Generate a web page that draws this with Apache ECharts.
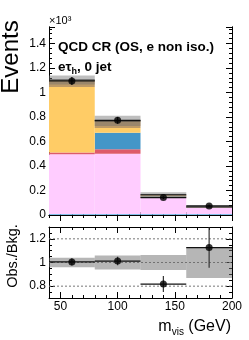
<!DOCTYPE html>
<html><head><meta charset="utf-8">
<script src="https://cdn.jsdelivr.net/npm/echarts@6/dist/echarts.min.js"></script>
<style>html,body{margin:0;padding:0;background:#fff}#c{width:249px;height:340px}</style>
</head><body><div id="c"></div>
<script>
// ---- data ----
const binEdges = [40, 80, 120, 160, 200];
const bkgCyan   = [0.006, 0.006, 0.006, 0.006];
const bkgPink   = [0.490, 0.495, 0.135, 0.052];
const bkgRed    = [0.014, 0.035, 0.006, 0.002];
const bkgBlue   = [0.000, 0.135, 0.004, 0.002];
const bkgOrange = [0.535, 0.040, 0.003, 0.001];
const bkgBrown  = [0.057, 0.057, 0.012, 0.003];
const bkgUnc    = [0.036, 0.042, 0.019, 0.008];
const obsValues = [1.094, 0.773, 0.142, 0.074];
const obsErrors = [0.033, 0.028, 0.012, 0.009];
const ratioValues = [1.005, 1.012, 0.818, 1.126];
const ratioErrors = [0.030, 0.036, 0.068, 0.171];
const ratioUnc    = [0.040, 0.060, 0.063, 0.130];
const xTickLabels = [50, 100, 150, 200];
const ratioTickLabels = [0.8, 1, 1.2];
const ratioGridLines = [0.8, 1, 1.2];

const FONT = "'Liberation Sans', Arial, Helvetica, sans-serif";
const procs = [
  {vals: bkgCyan, color: '#22a7d6'},
  {vals: bkgPink, color: '#ffccff'},
  {vals: bkgRed, color: '#de5a6a'},
  {vals: bkgBlue, color: '#4496c8'},
  {vals: bkgOrange, color: '#ffcc66'},
  {vals: bkgBrown, color: '#bd9a68'}
];
const nBins = binEdges.length - 1;
const cum = new Array(nBins).fill(0);
const series = [];

function rectItem(fill, stroke) {
  return function (params, api) {
    const a = api.coord([api.value(0), api.value(3)]);
    const b = api.coord([api.value(1), api.value(2)]);
    return {type: 'rect', shape: {x: a[0], y: a[1], width: b[0] - a[0], height: b[1] - a[1]},
      style: {fill: fill, stroke: stroke || null, lineWidth: 0}};
  };
}
procs.forEach(p => {
  const data = [];
  for (let i = 0; i < nBins; i++) {
    data.push([binEdges[i], binEdges[i + 1], cum[i], cum[i] + p.vals[i]]);
    cum[i] += p.vals[i];
  }
  series.push({type: 'custom', xAxisIndex: 0, yAxisIndex: 0, clip: true, silent: true,
    renderItem: rectItem(p.color), data: data, z: 2});
});
const totals = cum.slice();
// uncertainty band (top)
series.push({type: 'custom', xAxisIndex: 0, yAxisIndex: 0, clip: true, silent: true, z: 3,
  renderItem: rectItem('rgba(110,110,110,0.45)'),
  data: totals.map((t, i) => [binEdges[i], binEdges[i + 1], t - bkgUnc[i], t + bkgUnc[i]])});

function hline(color, width) {
  return function (params, api) {
    const a = api.coord([api.value(0), api.value(2)]);
    const b = api.coord([api.value(1), api.value(2)]);
    return {type: 'line', shape: {x1: a[0], y1: a[1], x2: b[0], y2: b[1]},
      style: {stroke: color, lineWidth: width}};
  };
}
function vline(color, width) {
  return function (params, api) {
    const a = api.coord([api.value(0), api.value(1)]);
    const b = api.coord([api.value(0), api.value(2)]);
    return {type: 'line', shape: {x1: a[0], y1: a[1], x2: b[0], y2: b[1]},
      style: {stroke: color, lineWidth: width}};
  };
}
// total line
series.push({type: 'custom', xAxisIndex: 0, yAxisIndex: 0, clip: true, silent: true, z: 4,
  renderItem: hline('#333', 1.2),
  data: totals.map((t, i) => [binEdges[i], binEdges[i + 1], t])});
const centers = [];
for (let i = 0; i < nBins; i++) centers.push((binEdges[i] + binEdges[i + 1]) / 2);
// data x-errors and y-errors (top)
series.push({type: 'custom', xAxisIndex: 0, yAxisIndex: 0, clip: true, silent: true, z: 5,
  renderItem: hline('#111', 1.2),
  data: obsValues.map((v, i) => [binEdges[i], binEdges[i + 1], v])});
series.push({type: 'custom', xAxisIndex: 0, yAxisIndex: 0, clip: true, silent: true, z: 5,
  renderItem: vline('#111', 1.2),
  data: obsValues.map((v, i) => [centers[i], v - obsErrors[i], v + obsErrors[i]])});
series.push({type: 'scatter', xAxisIndex: 0, yAxisIndex: 0, symbol: 'circle', symbolSize: 7, silent: true, z: 6,
  itemStyle: {color: '#000'}, data: obsValues.map((v, i) => [centers[i], v])});

// ---- ratio panel ----
series.push({type: 'custom', xAxisIndex: 4, yAxisIndex: 4, clip: true, silent: true, z: 2,
  renderItem: function (params, api) {
    const a = api.coord([binEdges[0], api.value(0)]);
    const b = api.coord([binEdges[nBins], api.value(0)]);
    return {type: 'line', shape: {x1: a[0], y1: a[1], x2: b[0], y2: b[1]},
      style: {stroke: '#777', lineWidth: 1, lineDash: [2, 2]}};
  },
  data: ratioGridLines.map(v => [v])});
series.push({type: 'custom', xAxisIndex: 4, yAxisIndex: 4, clip: true, silent: true, z: 3,
  renderItem: rectItem('rgba(110,110,110,0.5)'),
  data: ratioUnc.map((u, i) => [binEdges[i], binEdges[i + 1], 1 - u, 1 + u])});
series.push({type: 'custom', xAxisIndex: 4, yAxisIndex: 4, clip: true, silent: true, z: 5,
  renderItem: hline('#111', 1.2),
  data: ratioValues.map((v, i) => [binEdges[i], binEdges[i + 1], v])});
series.push({type: 'custom', xAxisIndex: 4, yAxisIndex: 4, clip: true, silent: true, z: 5,
  renderItem: vline('#333', 1.2),
  data: ratioValues.map((v, i) => [centers[i], v - ratioErrors[i], v + ratioErrors[i]])});
series.push({type: 'scatter', xAxisIndex: 4, yAxisIndex: 4, symbol: 'circle', symbolSize: 7, silent: true, z: 6,
  itemStyle: {color: '#000'}, data: ratioValues.map((v, i) => [centers[i], v])});

// ---- axes ----
const lineBlack = {show: true, lineStyle: {color: '#000', width: 1}};
function xAx(grid, pos, kind, labels) {
  const ax = {type: 'value', gridIndex: grid, position: pos, min: binEdges[0], max: binEdges[nBins],
    splitLine: {show: false}, axisLine: {show: false}, axisLabel: {show: false}, axisTick: {show: false}};
  if (kind === 'minor') {
    ax.interval = 10;
    ax.axisLine = lineBlack;
    ax.axisTick = {show: true, inside: true, length: 3, lineStyle: {color: '#000'}};
  } else {
    ax.axisTick = {show: true, inside: true, length: 6, customValues: xTickLabels, lineStyle: {color: '#000'}};
    if (labels) ax.axisLabel = {show: true, customValues: xTickLabels, color: '#000', fontSize: 12, fontFamily: FONT, margin: 3};
  }
  return ax;
}
const xAxis = [
  xAx(0, 'bottom', 'minor'), xAx(0, 'bottom', 'major'), xAx(0, 'top', 'minor'), xAx(0, 'top', 'major'),
  xAx(1, 'bottom', 'minor'), xAx(1, 'bottom', 'major', true), xAx(1, 'top', 'minor'), xAx(1, 'top', 'major')
];
function yTop(pos, labels) {
  return {type: 'value', gridIndex: 0, position: pos, min: 0, max: 1.535, interval: 0.2,
    splitLine: {show: false}, axisLine: lineBlack,
    axisTick: {show: true, inside: true, length: 6, lineStyle: {color: '#000'}},
    minorTick: {show: true, splitNumber: 5, length: 3, lineStyle: {color: '#000'}},
    axisLabel: {show: labels, showMaxLabel: false, color: '#000', fontSize: 12, fontFamily: FONT, margin: 3}};
}
function yRatio(pos, kind, labels) {
  const ax = {type: 'value', gridIndex: 1, position: pos, min: 0.7, max: 1.3,
    splitLine: {show: false}, axisLine: {show: false}, axisLabel: {show: false}, axisTick: {show: false}};
  if (kind === 'minor') {
    ax.interval = 0.05;
    ax.axisLine = lineBlack;
    ax.axisTick = {show: true, inside: true, length: 3, lineStyle: {color: '#000'}};
  } else {
    ax.axisTick = {show: true, inside: true, length: 6, customValues: ratioTickLabels, lineStyle: {color: '#000'}};
    if (labels) ax.axisLabel = {show: true, customValues: ratioTickLabels, color: '#000', fontSize: 12, fontFamily: FONT, margin: 3};
  }
  return ax;
}
const yAxis = [
  yTop('left', true), yTop('right', false), yTop('left', false), yTop('right', false),
  yRatio('left', 'minor'), yRatio('left', 'major', true), yRatio('right', 'minor'), yRatio('right', 'major')
];

const chart = echarts.init(document.getElementById('c'), null, {renderer: 'canvas'});
chart.setOption({
  animation: false,
  backgroundColor: '#fff',
  grid: [
    {left: 49, right: 17, top: 27, height: 188},
    {left: 49, right: 17, top: 227, height: 71}
  ],
  xAxis: xAxis,
  yAxis: yAxis,
  series: series,
  graphic: [
    {type: 'text', x: 49, y: 26, style: {text: '×10³', font: '11px ' + FONT, fill: '#000', verticalAlign: 'bottom'}},
    {type: 'text', x: 58, y: 47, z: 10, style: {text: 'QCD CR (OS, e non iso.)', font: 'bold 13.5px ' + FONT, fill: '#000', verticalAlign: 'middle'}},
    {type: 'text', x: 58, y: 67.5, z: 10, style: {
      text: '{a|eτ}{s|h}{a|, 0 jet}', verticalAlign: 'middle',
      rich: {a: {font: 'bold 13.5px ' + FONT, fill: '#000', lineHeight: 16},
             s: {font: 'bold 9px ' + FONT, fill: '#000', padding: [9, 0, 0, 0], lineHeight: 16}}}},
    {type: 'text', x: 11, y: 57, rotation: Math.PI / 2, style: {text: 'Events', font: '24px ' + FONT, fill: '#000', align: 'center', verticalAlign: 'middle'}},
    {type: 'text', x: 13, y: 256, rotation: Math.PI / 2, style: {text: 'Obs./Bkg.', font: '14.5px ' + FONT, fill: '#000', align: 'center', verticalAlign: 'middle'}},
    {type: 'text', x: 231, y: 327, style: {
      text: '{a|m}{s|vis}{a| (GeV)}', align: 'right', verticalAlign: 'middle',
      rich: {a: {font: '16px ' + FONT, fill: '#000', lineHeight: 20},
             s: {font: '10px ' + FONT, fill: '#000', padding: [10, 0, 0, 0], lineHeight: 20}}}}
  ]
});
</script></body></html>
